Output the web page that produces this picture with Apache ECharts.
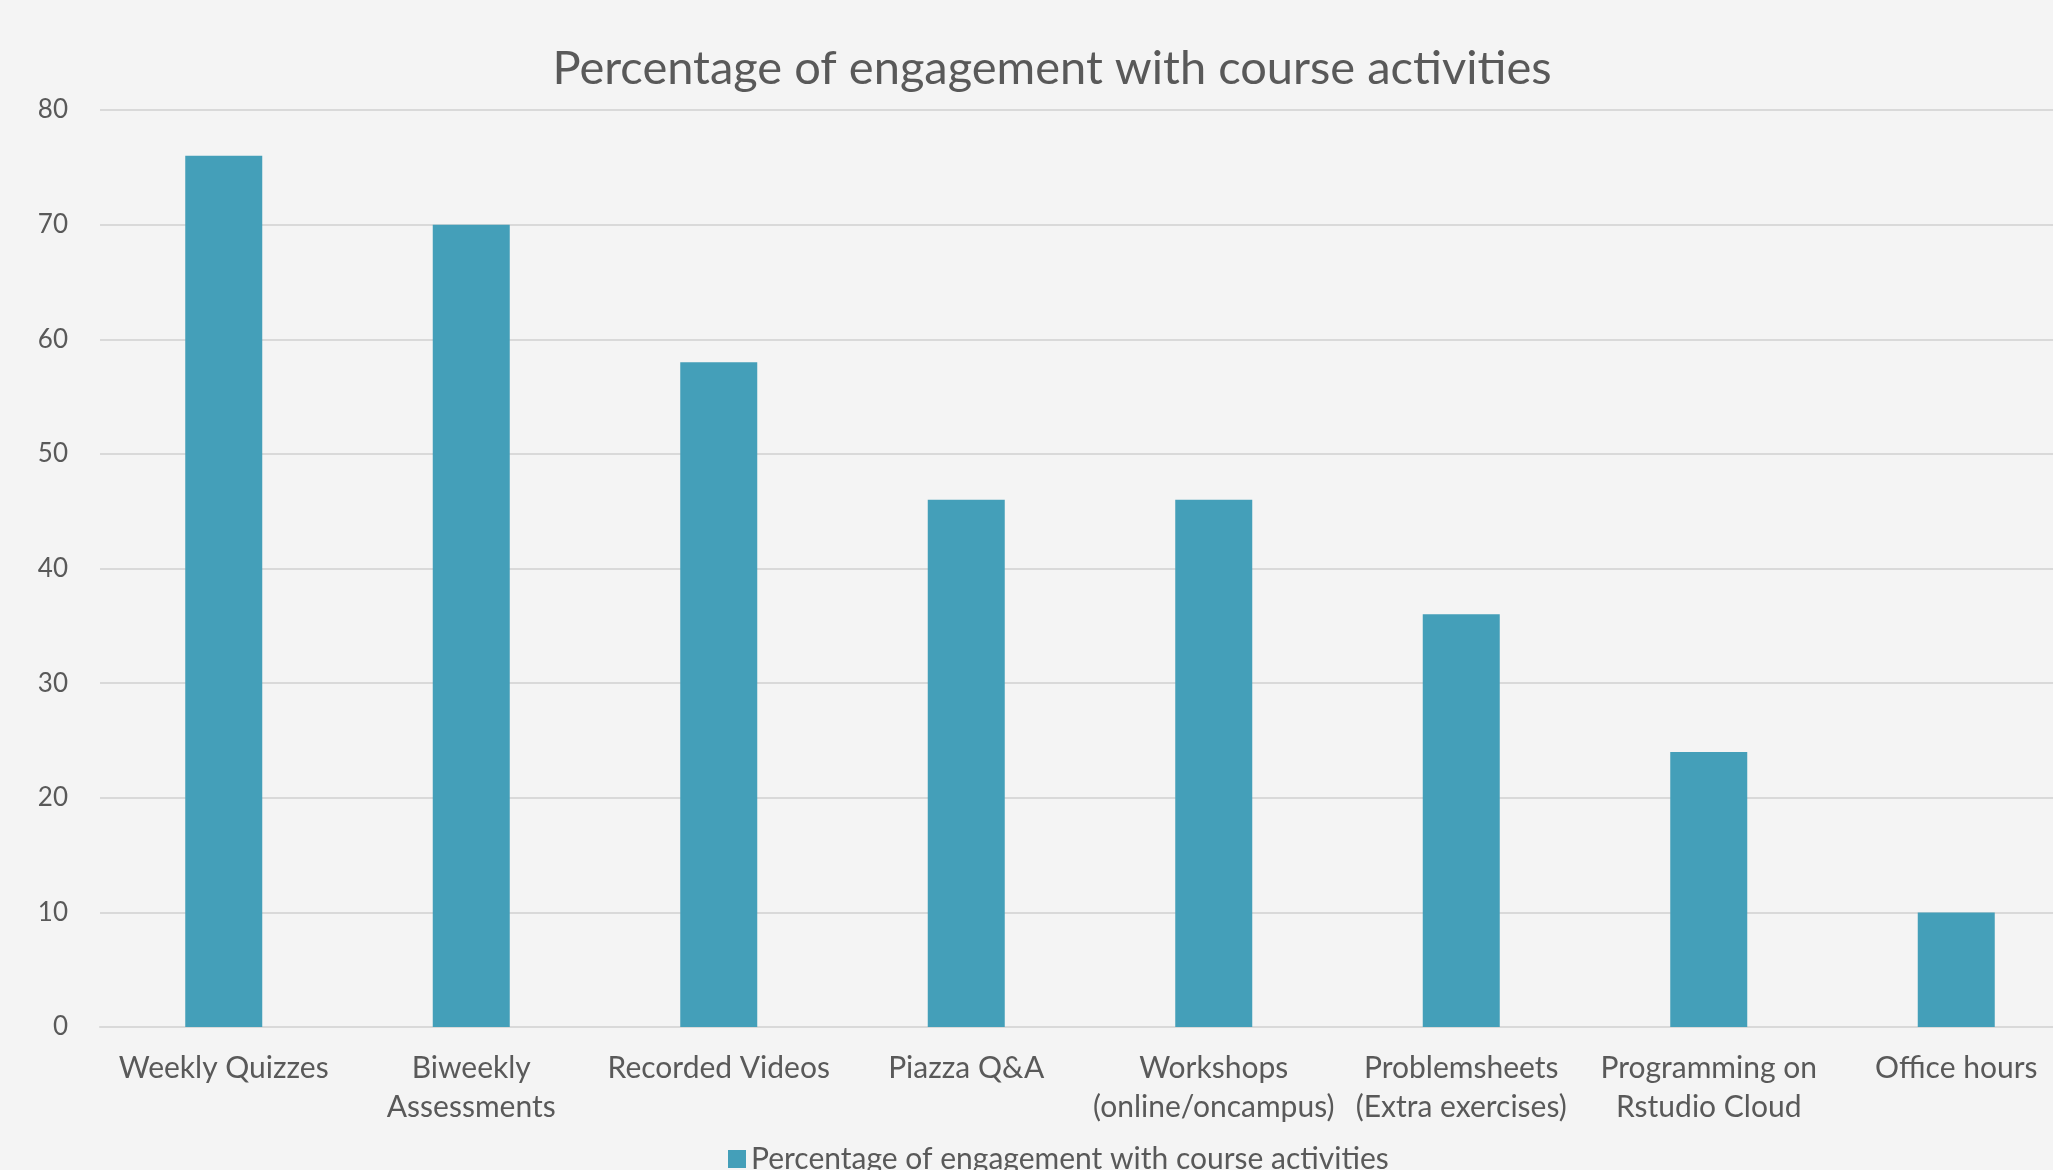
<!DOCTYPE html>
<html>
<head>
<meta charset="utf-8">
<script src="https://cdn.jsdelivr.net/npm/echarts@6/dist/echarts.min.js"></script>
<style>
  html, body { margin: 0; padding: 0; background: #f4f4f4; }
  #chart { width: 2053px; height: 1170px; }
</style>
</head>
<body>
<div id="chart"></div>
<script>
// Course activities and the share of students engaging with each (%)
const chartTitle = 'Percentage of engagement with course activities';
const seriesName = 'Percentage of engagement with course activities';
const activities = [
  'Weekly Quizzes',
  'Biweekly\nAssessments',
  'Recorded Videos',
  'Piazza Q&A',
  'Workshops\n(online/oncampus)',
  'Problemsheets\n(Extra exercises)',
  'Programming on\nRstudio Cloud',
  'Office hours'
];
const engagement = [76, 70, 58, 46, 46, 36, 24, 10];
const yTicks = { min: 0, max: 80, interval: 10 };

const FONT = 'Lato, "Open Sans", sans-serif';
const TEXT = '#595959';

const chart = echarts.init(document.getElementById('chart'), null, { renderer: 'canvas' });
chart.setOption({
  backgroundColor: '#f4f4f4',
  animation: false,
  title: {
    text: chartTitle,
    left: 1047,
    textAlign: 'center',
    top: 40,
    textStyle: { fontFamily: FONT, fontSize: 47, fontWeight: 'normal', color: TEXT }
  },
  legend: {
    data: [seriesName],
    left: 723,
    top: 1139,
    itemWidth: 18,
    itemHeight: 18,
    itemGap: 8,
    icon: 'rect',
    textStyle: { fontFamily: FONT, fontSize: 30, color: TEXT }
  },
  // the plot area runs on past the right edge of the page
  grid: {
    left: 100, top: 110, width: 1980, height: 917,
    containLabel: false,
    outerBoundsMode: 'none'
  },
  xAxis: {
    type: 'category',
    data: activities,
    axisTick: { show: false },
    axisLine: { lineStyle: { color: '#d9d9d9', width: 2 } },
    axisLabel: {
      interval: 0,
      margin: 22,
      fontFamily: FONT,
      fontSize: 30,
      lineHeight: 39,
      color: TEXT
    }
  },
  yAxis: {
    type: 'value',
    min: yTicks.min,
    max: yTicks.max,
    interval: yTicks.interval,
    axisLine: { show: false },
    axisTick: { show: false },
    splitLine: { lineStyle: { color: '#d9d9d9', width: 2 } },
    axisLabel: { margin: 32, fontFamily: FONT, fontSize: 26, color: TEXT }
  },
  series: [{
    name: seriesName,
    type: 'bar',
    data: engagement,
    barWidth: 77,
    itemStyle: { color: '#449fb9' }
  }]
});
</script>
</body>
</html>
